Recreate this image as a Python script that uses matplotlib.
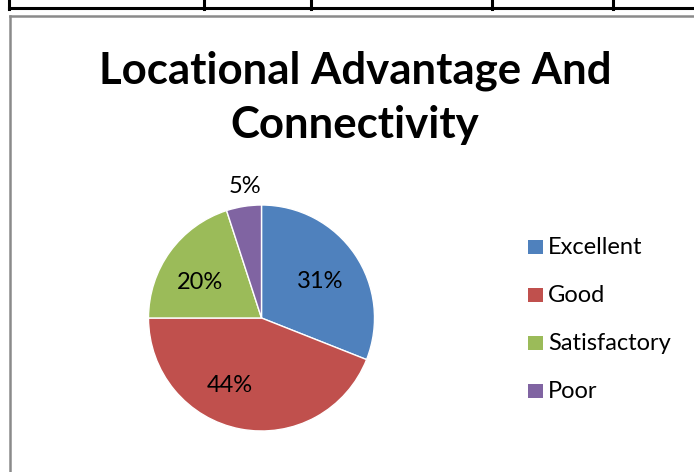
import matplotlib
matplotlib.use("Agg")
import matplotlib.pyplot as plt
from matplotlib.lines import Line2D
from matplotlib.patches import Rectangle

categories = ["Excellent", "Good", "Satisfactory", "Poor"]
values = [31, 44, 20, 5]
labels_pct = ["31%", "44%", "20%", "5%"]
colors = ["#4F81BD", "#C0504D", "#9BBB59", "#8064A2"]
title = "Locational Advantage And\nConnectivity"

W, H = 694, 472
fig = plt.figure(figsize=(W / 100, H / 100), dpi=100)
plt.rcParams['font.family'] = ['Lato', 'DejaVu Sans']

# document table lines above the chart
fig.add_artist(Line2D([9 / W, 1], [1 - 7.5 / H, 1 - 7.5 / H], color="black", lw=2.2,
                      transform=fig.transFigure))
for xv in [9, 204, 311, 492, 612.5]:
    fig.add_artist(Line2D([xv / W, xv / W], [1, 1 - 8.5 / H], color="black", lw=2.2,
                          transform=fig.transFigure))

# chart frame
fig.add_artist(Line2D([10 / W, 10 / W], [0, 1 - 16 / H], color="#8a8a8a", lw=1.8,
                      transform=fig.transFigure))
fig.add_artist(Line2D([10 / W, 1], [1 - 16 / H, 1 - 16 / H], color="#8a8a8a", lw=1.8,
                      transform=fig.transFigure))

# title
fig.text(355 / W, 1 - 98 / H, title, ha="center", va="center", fontsize=31.5,
         fontweight="bold", linespacing=1.42, color="black")

# pie
cx, cy, r = 261.5, 318, 113
ax = fig.add_axes([(cx - r) / W, 1 - (cy + r) / H, 2 * r / W, 2 * r / H])
wedges, texts = ax.pie(values, colors=colors, startangle=90, counterclock=False,
                       wedgeprops=dict(edgecolor="white", linewidth=1))
ax.set_xlim(-1, 1)
ax.set_ylim(-1, 1)
ax.set_aspect("auto")
ax.axis("off")

# label positions (in pie radius units)
label_pos = [(0.52, 0.32), (-0.28, -0.6), (-0.54, 0.31), (-0.15, 1.16)]
for (lx, ly), t in zip(label_pos, labels_pct):
    ax.text(lx, ly, t, ha="center", va="center", fontsize=17, color="black")

# legend
for i, (c, name) in enumerate(zip(colors, categories)):
    yc = 247 + 48 * i
    fig.add_artist(Rectangle((528 / W, 1 - (yc + 7) / H), 14.5 / W, 14.5 / H,
                             facecolor=c, edgecolor="none", transform=fig.transFigure))
    fig.text(548 / W, 1 - yc / H, name, ha="left", va="center", fontsize=17,
             color="black")

fig.savefig("out.png", dpi=100)
